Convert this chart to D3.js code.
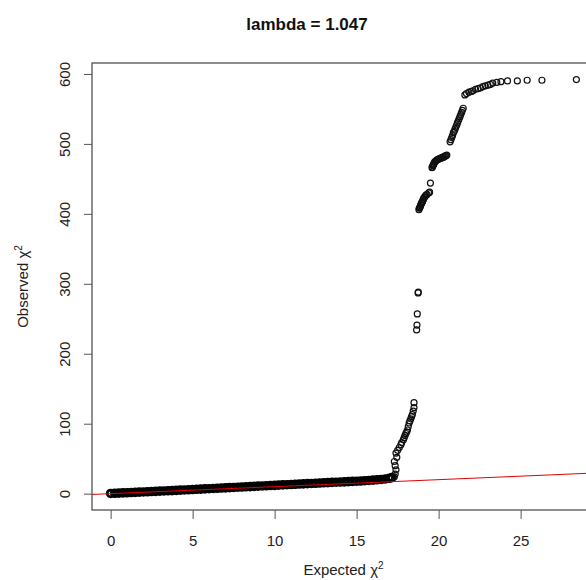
<!DOCTYPE html>
<html>
<head>
  <meta charset="utf-8">
  <title>QQ plot</title>
  <script src="https://d3js.org/d3.v7.min.js"></script>
  <style>
    body { margin: 0; background: #fff; }
    svg { font-family: "Liberation Sans", Arial, sans-serif; }
  </style>
</head>
<body>
<script>

  // expected vs observed chi-square, the dense band near the diagonal
  var bandExpected = [0, 0.25, 0.5, 0.75, 1, 1.25, 1.5, 1.75, 2, 2.25, 2.5, 2.75, 3, 3.25, 3.5, 3.75,
    4, 4.25, 4.5, 4.75, 5, 5.25, 5.5, 5.75, 6, 6.25, 6.5, 6.75, 7, 7.25, 7.5, 7.75,
    8, 8.25, 8.5, 8.75, 9, 9.25, 9.5, 9.75, 10, 10.25, 10.5, 10.75, 11, 11.25, 11.5, 11.75,
    12, 12.25, 12.5, 12.75, 13, 13.25, 13.5, 13.75, 14, 14.25, 14.5, 14.75, 15, 15.25, 15.5, 15.75,
    16, 16.25, 16.5, 16.75, 17, 17.15];
  var bandObserved = [0.3, 0.5, 0.8, 1.1, 1.3, 1.6, 1.9, 2.2, 2.4, 2.7, 3.0, 3.3, 3.6, 3.9, 4.1, 4.4,
    4.7, 5.0, 5.3, 5.6, 5.9, 6.2, 6.5, 6.8, 7.1, 7.4, 7.7, 8.0, 8.3, 8.6, 8.9, 9.2,
    9.5, 9.8, 10.1, 10.4, 10.7, 11.0, 11.3, 11.6, 11.9, 12.2, 12.5, 12.8, 13.1, 13.4, 13.7, 14.0,
    14.3, 14.6, 14.9, 15.2, 15.5, 15.8, 16.1, 16.4, 16.6, 16.9, 17.2, 17.5, 17.8, 18.1, 18.5, 18.9,
    19.3, 19.8, 20.3, 21.0, 22.0, 23.0];

  // the inflated tail
  var tailExpected = [17.3, 17.35, 17.4, 17.35, 17.3, 17.45, 17.4, 17.5, 17.6, 17.7, 17.75, 17.85, 17.9,
    17.95, 18.0, 18.05, 18.1, 18.15, 18.2, 18.25, 18.3, 18.35, 18.4, 18.45, 18.5, 18.5,
    18.66, 18.68, 18.7, 18.75, 18.76,
    18.8, 18.82, 18.85, 18.88, 18.9, 18.92, 18.95, 18.98, 19.0, 19.02, 19.05, 19.08, 19.1, 19.15,
    19.2, 19.25, 19.3, 19.4, 19.45, 19.5,
    19.6, 19.62, 19.65, 19.68, 19.7, 19.72, 19.75, 19.8, 19.85, 19.9, 19.95, 20.0, 20.05, 20.1,
    20.15, 20.2, 20.25, 20.3, 20.35, 20.4, 20.45, 20.5,
    20.7, 20.75, 20.8, 20.85, 20.9, 20.95, 21.0, 21.05, 21.1, 21.15, 21.2, 21.25, 21.3, 21.35,
    21.4, 21.45, 21.5,
    21.6, 21.7, 21.85, 22.0, 22.1, 22.25, 22.4, 22.55, 22.7, 22.85, 23.0, 23.15, 23.3, 23.55, 23.8,
    24.2, 24.8, 25.4, 26.3, 28.4];
  var tailObserved = [24, 28, 34, 40, 46, 52, 58, 62, 66, 70, 73, 77, 80,
    83, 86, 88, 91, 96, 101, 104, 107, 110, 113, 118, 123, 130,
    234, 241, 257, 287, 288,
    406, 408, 409, 410, 412, 413, 415, 416, 417, 418, 420, 421, 423, 424,
    426, 427, 428, 430, 431, 444,
    466, 467, 469, 470, 471, 472, 474, 475, 476, 477, 478, 478, 479, 479,
    480, 480, 481, 481, 482, 483, 483, 484,
    503, 506, 509, 512, 516, 518, 521, 524, 527, 530, 533, 536, 539, 542,
    545, 548, 551,
    570, 572, 574, 575, 576, 578, 579, 580, 582, 583, 584, 585, 587, 588, 589,
    590, 590, 591, 591, 592];

  var xTicks = [0, 5, 10, 15, 20, 25];
  var yTicks = [0, 100, 200, 300, 400, 500, 600];
  var lambdaText = "lambda = 1.047";

  var width = 586, height = 580;
  var plotL = 92, plotR = 595, plotT = 63, plotB = 510;

  var band = bandExpected.map(function(d, i) { return [d, bandObserved[i]]; });
  var tail = tailExpected.map(function(d, i) { return [d, tailObserved[i]]; });
  var points = band.concat(tail);

  // R style 4% padding around the data range
  var xExt = d3.extent(points, function(d) { return d[0]; });
  var yExt = d3.extent(points, function(d) { return d[1]; });
  var xPad = (xExt[1] - xExt[0]) * 0.04, yPad = (yExt[1] - yExt[0]) * 0.04;

  var x = d3.scaleLinear().domain([xExt[0] - xPad, xExt[1] + xPad]).range([plotL, plotR]);
  var y = d3.scaleLinear().domain([yExt[0] - yPad, yExt[1] + yPad]).range([plotB, plotT]);

  var svg = d3.select("body").append("svg")
      .attr("width", width)
      .attr("height", height);

  svg.append("defs").append("clipPath").attr("id", "clip")
    .append("rect")
      .attr("x", plotL).attr("y", plotT)
      .attr("width", plotR - plotL).attr("height", plotB - plotT);

  var plot = svg.append("g").attr("clip-path", "url(#clip)");

  // the band has so many overlapping rings that it prints as solid black
  plot.selectAll(".band")
      .data(band)
      .enter().append("circle")
      .attr("class", "band")
      .attr("cx", function(d) { return x(d[0]); })
      .attr("cy", function(d) { return y(d[1]); })
      .attr("r", 3.4)
      .style("fill", "none")
      .style("stroke", "#000")
      .style("stroke-width", 2.8);

  plot.selectAll(".tail")
      .data(tail)
      .enter().append("circle")
      .attr("class", "tail")
      .attr("cx", function(d) { return x(d[0]); })
      .attr("cy", function(d) { return y(d[1]); })
      .attr("r", 3)
      .style("fill", "none")
      .style("stroke", "#111")
      .style("stroke-width", 1.2);

  // y = x reference line
  var xd = x.domain();
  plot.append("path")
      .datum([[xd[0], xd[0]], [xd[1], xd[1]]])
      .attr("d", d3.line().x(function(d) { return x(d[0]); }).y(function(d) { return y(d[1]); }))
      .style("stroke", "#e00000")
      .style("stroke-width", 1)
      .style("fill", "none");

  // box
  svg.append("rect")
      .attr("x", plotL).attr("y", plotT)
      .attr("width", plotR - plotL).attr("height", plotB - plotT)
      .style("fill", "none")
      .style("stroke", "#444")
      .style("stroke-width", 1.2);

  var xAxis = svg.append("g")
      .attr("transform", "translate(0," + plotB + ")")
      .call(d3.axisBottom(x).tickValues(xTicks).tickSize(9).tickFormat(d3.format("d")));
  xAxis.select(".domain").remove();
  xAxis.selectAll("line").style("stroke", "#555");
  xAxis.selectAll("text")
      .attr("y", 36).attr("dy", 0)
      .style("font-size", "15px")
      .style("fill", "#222");

  var yAxis = svg.append("g")
      .attr("transform", "translate(" + plotL + ",0)")
      .call(d3.axisLeft(y).tickValues(yTicks).tickSize(8).tickFormat(d3.format("d")));
  yAxis.select(".domain").remove();
  yAxis.selectAll("line").style("stroke", "#555");
  yAxis.selectAll("text")
      .attr("x", 0).attr("y", -22).attr("dy", 0)
      .attr("transform", "rotate(-90)")
      .style("text-anchor", "middle")
      .style("font-size", "15px")
      .style("fill", "#222");

  // title and axis labels
  svg.append("text")
      .attr("x", 307).attr("y", 30)
      .style("text-anchor", "middle")
      .style("font-size", "17px")
      .style("font-weight", "bold")
      .style("fill", "#111")
      .text(lambdaText);

  var xl = svg.append("text")
      .attr("x", (plotL + plotR) / 2).attr("y", 575)
      .style("text-anchor", "middle")
      .style("font-size", "15px")
      .style("fill", "#222");
  xl.append("tspan").text("Expected  \u03C7");
  xl.append("tspan").attr("dy", -6).style("font-size", "10px").text("2");

  var yl = svg.append("text")
      .attr("transform", "translate(28," + ((plotT + plotB) / 2) + ") rotate(-90)")
      .style("text-anchor", "middle")
      .style("font-size", "15px")
      .style("fill", "#222");
  yl.append("tspan").text("Observed  \u03C7");
  yl.append("tspan").attr("dy", -6).style("font-size", "10px").text("2");

</script>
</body>
</html>
